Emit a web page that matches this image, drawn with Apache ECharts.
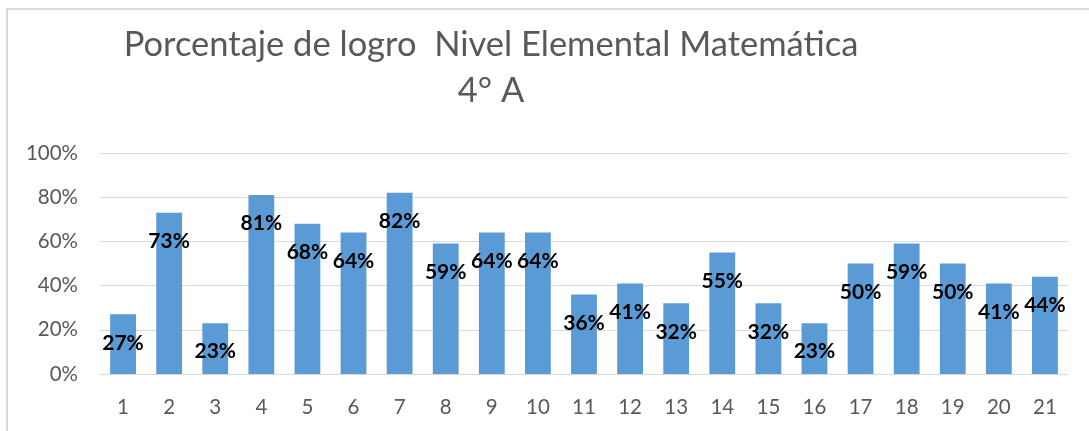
<!DOCTYPE html>
<html>
<head>
<meta charset="utf-8">
<script src="https://cdn.jsdelivr.net/npm/echarts@6/dist/echarts.min.js"></script>
<style>
  html, body { margin: 0; padding: 0; background: #ffffff; }
  #chart { width: 1089px; height: 431px; }
</style>
</head>
<body>
<div id="chart"></div>
<script>
// Percentage of achievement per item, 4° A
const categories = ['1','2','3','4','5','6','7','8','9','10','11','12','13','14','15','16','17','18','19','20','21'];
const logro = [27, 73, 23, 81, 68, 64, 82, 59, 64, 64, 36, 41, 32, 55, 32, 23, 50, 59, 50, 41, 44];
const yTicks = [0, 20, 40, 60, 80, 100];

const chart = echarts.init(document.getElementById('chart'), null, { renderer: 'canvas' });

chart.setOption({
  backgroundColor: '#ffffff',
  animation: false,
  graphic: [{
    type: 'rect',
    shape: { x: 7, y: 9, width: 1200, height: 600 },
    style: { fill: 'none', stroke: '#d9d9d9', lineWidth: 2 },
    silent: true
  }],
  title: {
    text: 'Porcentaje de logro  Nivel Elemental Matemática\n4° A',
    left: 486,
    top: 17,
    textAlign: 'center',
    textStyle: {
      fontFamily: 'Lato',
      fontWeight: 'normal',
      fontSize: 34.5,
      lineHeight: 46,
      color: '#595959'
    }
  },
  grid: { left: 100, right: 21, top: 153, bottom: 57, containLabel: false },
  xAxis: {
    type: 'category',
    data: categories,
    axisLine: { lineStyle: { color: '#d9d9d9', width: 1 } },
    axisTick: { show: false },
    axisLabel: { color: '#595959', fontFamily: 'Lato', fontSize: 20.5, margin: 23 }
  },
  yAxis: {
    type: 'value',
    min: yTicks[0],
    max: yTicks[yTicks.length - 1],
    interval: 20,
    axisLine: { show: false },
    axisTick: { show: false },
    splitLine: { lineStyle: { color: '#d9d9d9', width: 1 } },
    axisLabel: { color: '#595959', fontFamily: 'Lato', fontSize: 20.5, margin: 22, formatter: '{value}%' }
  },
  series: [{
    type: 'bar',
    data: logro,
    barWidth: '56%',
    itemStyle: { color: '#5b9bd5' },
    label: {
      show: true,
      position: 'insideTop',
      distance: 18,
      formatter: '{c}%',
      color: '#000000',
      fontFamily: 'Lato',
      fontWeight: 'bold',
      fontSize: 21
    }
  }]
});
</script>
</body>
</html>
